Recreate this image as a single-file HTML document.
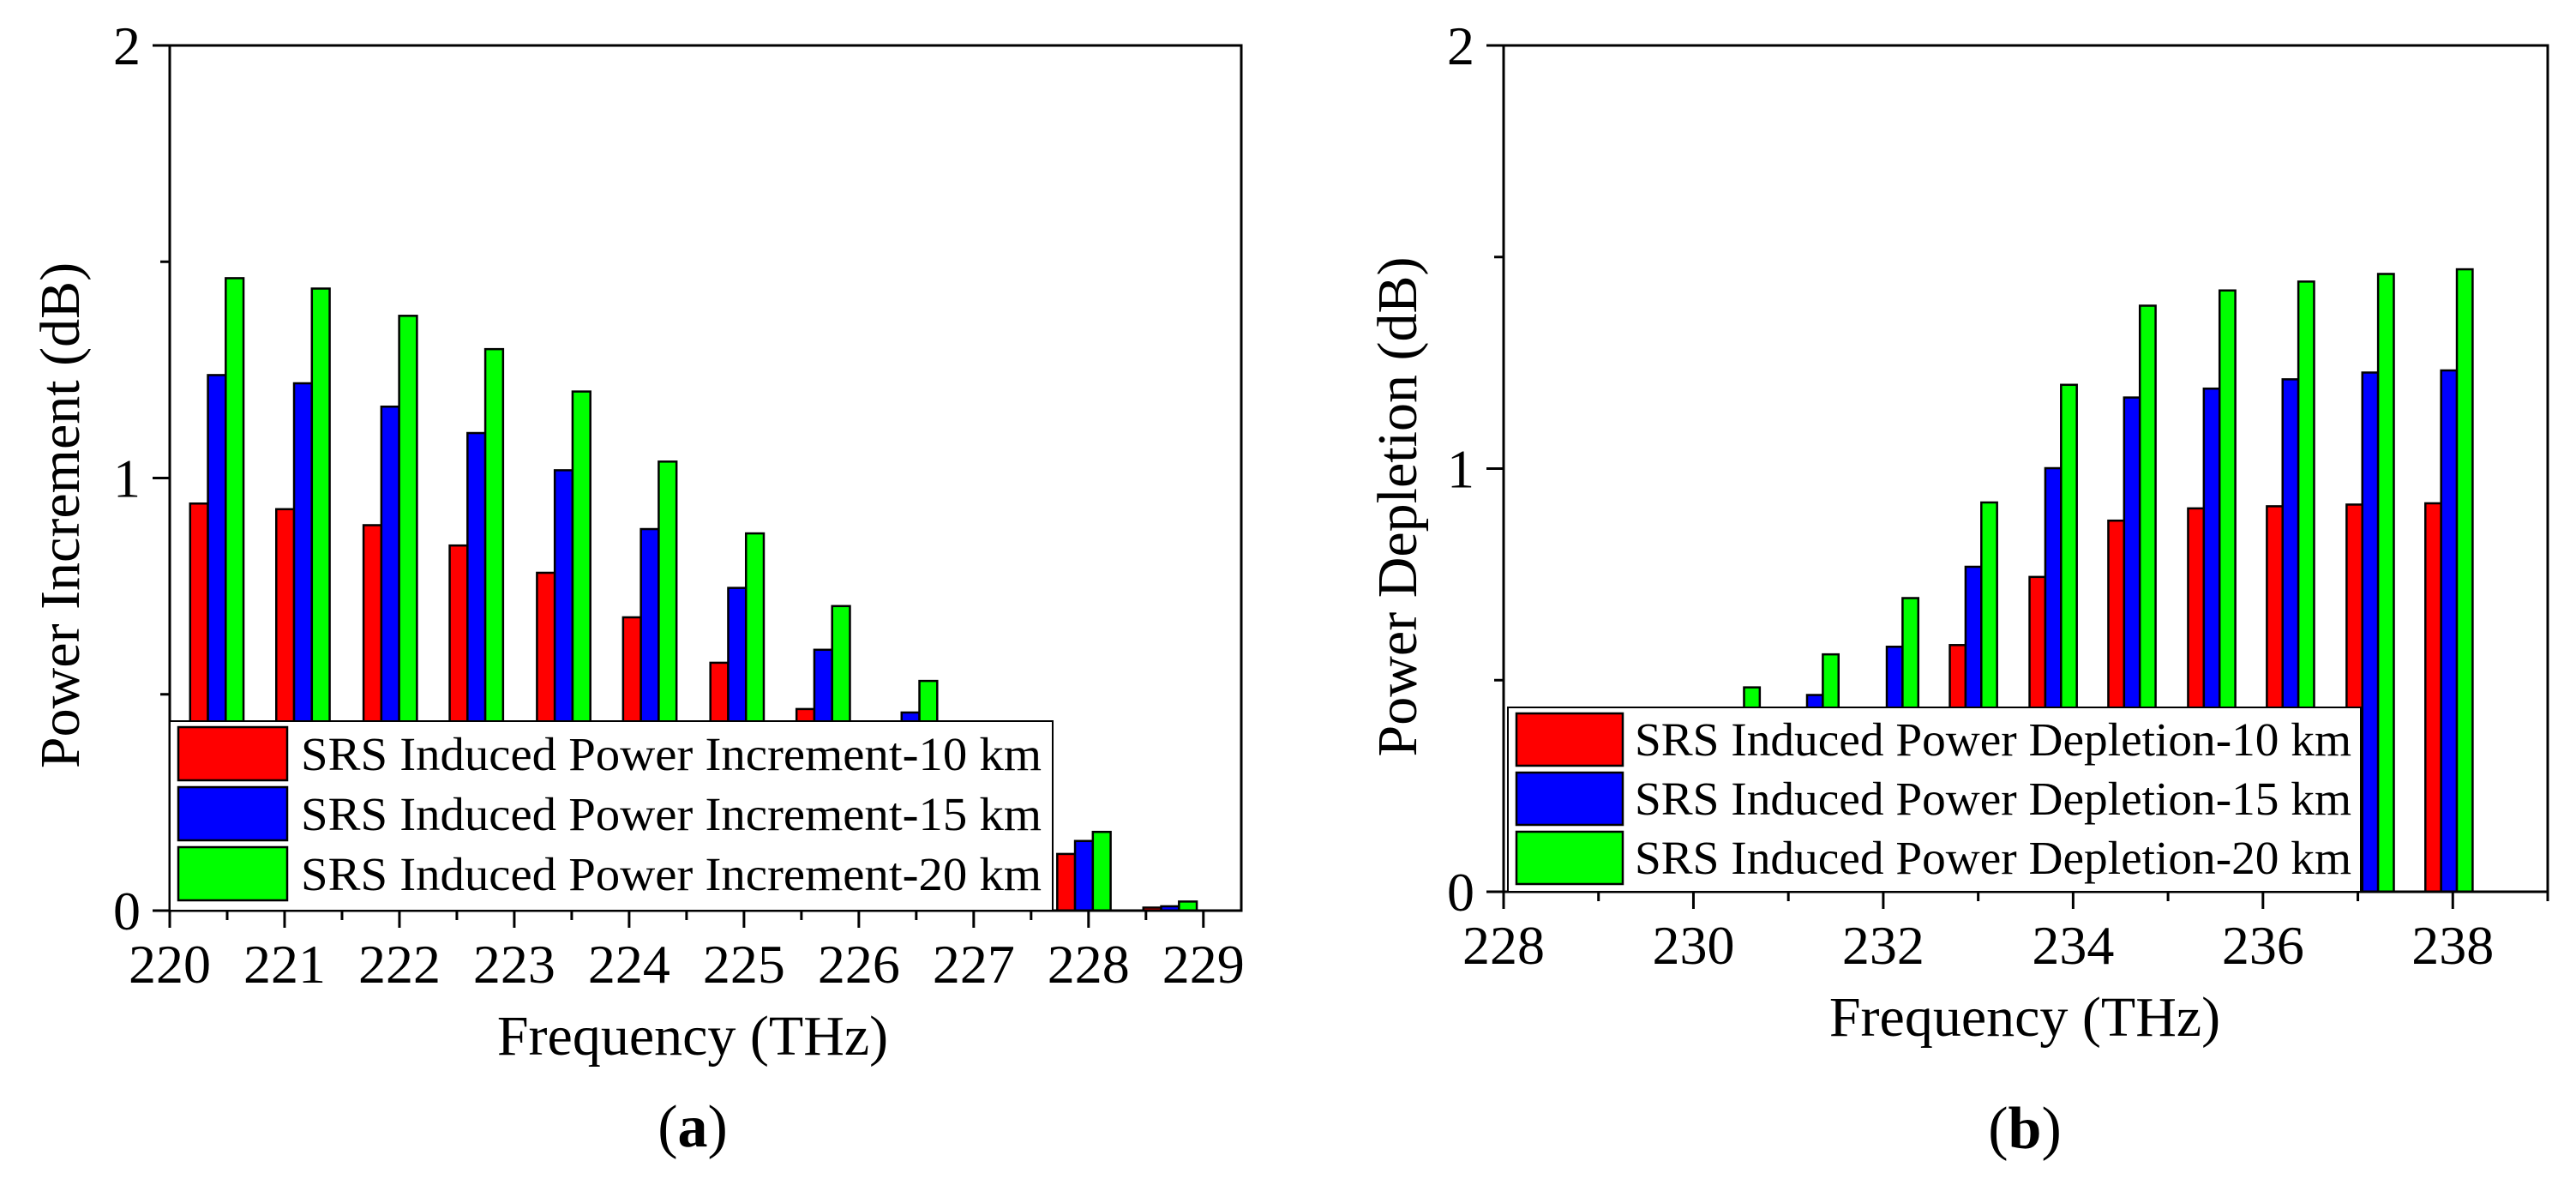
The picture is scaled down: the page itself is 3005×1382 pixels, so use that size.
<!DOCTYPE html>
<html><head><meta charset="utf-8"><style>html,body{margin:0;padding:0;background:#fff}svg{display:block}text{font-family:"Liberation Serif",serif;fill:#000}</style></head>
<body>
<svg id="fig" width="3005" height="1382" viewBox="0 0 3005 1382" xmlns="http://www.w3.org/2000/svg"></svg>
<script>
// Panel (a) data
const freqA = [220.41,221.16,221.92,222.67,223.43,224.18,224.94,225.69,226.45,227.20,227.96,228.71];
const incr10 = [0.941,0.928,0.891,0.844,0.781,0.678,0.573,0.466,0.36,0.26,0.131,0.007];
const incr15 = [1.238,1.219,1.165,1.104,1.018,0.882,0.746,0.603,0.458,0.32,0.161,0.010];
const incr20 = [1.462,1.438,1.375,1.298,1.200,1.038,0.872,0.704,0.531,0.37,0.182,0.021];
const ticksXA = [220,221,222,223,224,225,226,227,228,229];
const ticksY = [0,1,2];
// Panel (b) data
const freqB = [230.45,231.28,232.12,232.95,233.79,234.62,235.46,236.29,237.13,237.96];
const depl10 = [0.20,0.30,0.40,0.583,0.744,0.877,0.906,0.911,0.915,0.918];
const depl15 = [0.35,0.465,0.579,0.768,1.001,1.168,1.189,1.211,1.227,1.232];
const depl20 = [0.483,0.561,0.694,0.920,1.198,1.385,1.421,1.442,1.460,1.471];
const ticksXB = [228,230,232,234,236,238];
const legendA = ["SRS Induced Power Increment-10 km","SRS Induced Power Increment-15 km","SRS Induced Power Increment-20 km"];
const legendB = ["SRS Induced Power Depletion-10 km","SRS Induced Power Depletion-15 km","SRS Induced Power Depletion-20 km"];
const colors = ["#ff0000","#0000ff","#00ff00"];

const svg = document.getElementById('fig');
const NS = 'http://www.w3.org/2000/svg';
function mk(tag, attrs, parent) {
  const e = document.createElementNS(NS, tag);
  for (const k in attrs) e.setAttribute(k, attrs[k]);
  (parent || svg).appendChild(e);
  return e;
}

function panel(p) {
  const g = mk('g', {});
  
  
  const xs = v => p.x0 + (v - p.xmin) / (p.xmax - p.xmin) * (p.x1 - p.x0);
  const ys = v => p.y0 - v / 2 * (p.y0 - p.y1);
  const series = [p.s1, p.s2, p.s3];
  for (let i = 0; i < p.freq.length; i++) {
    for (let s = 0; s < 3; s++) {
      const c = p.freq[i] + (s - 1) * p.bw;
      const left = xs(c - p.bw / 2), right = xs(c + p.bw / 2);
      const top = ys(series[s][i]);
      const r = mk('rect', {x: left, y: top, width: right - left, height: p.y0 - top, fill: colors[s], stroke: '#000', 'stroke-width': 2.5}, g);
      
      
    }
  }
  const fr = mk('rect', {x: p.x0, y: p.y1, width: p.x1 - p.x0, height: p.y0 - p.y1, fill: 'none', stroke: '#000', 'stroke-width': 3}, g);
  
  
  for (let t = p.xmin; t <= p.xmax + 1e-6; t += p.minorStep) {
    const tx = xs(t);
    const major = p.ticksX.some(v => Math.abs(v - t) < 1e-6);
    mk('line', {x1: tx, x2: tx, y1: p.y0, y2: p.y0 + (major ? 20 : 11), stroke: '#000', 'stroke-width': 3}, g);
  }
  p.ticksX.forEach(v => {
    const t = mk('text', {x: xs(v), y: p.y0 + 84, 'font-size': 64, 'text-anchor': 'middle'}, g);
    t.textContent = v;
    
    
  });
  [0, 0.5, 1, 1.5, 2].forEach(v => {
    const major = ticksY.includes(v);
    mk('line', {x1: p.x0, x2: p.x0 - (major ? 20 : 11), y1: ys(v), y2: ys(v), stroke: '#000', 'stroke-width': 3}, g);
  });
  ticksY.forEach(v => {
    const t = mk('text', {x: p.x0 - 34, y: ys(v) + 22, 'font-size': 64, 'text-anchor': 'end'}, g);
    t.textContent = v;
    
    
  });
  const xt = mk('text', {x: p.xtx, y: p.y0 + 168, 'font-size': 66, 'text-anchor': 'middle'}, g);
  xt.textContent = 'Frequency (THz)';
  
  
  const yt = mk('text', {x: 0, y: 0, 'font-size': 66, 'text-anchor': 'middle', transform: 'translate(' + p.ytx + ',' + p.yty + ') rotate(-90)'}, g);
  yt.textContent = p.ytitle;
  
  
  const cap = mk('text', {x: p.xtx, y: p.capy, 'font-size': 70, 'text-anchor': 'middle'}, g);
  cap.innerHTML = '(<tspan font-weight="bold">' + p.cap + '</tspan>)';
  
  
  const lg = mk('g', {}, g);
  
  
  mk('rect', {x: p.lx, y: p.ly, width: p.lw, height: p.y0 - p.ly, fill: '#fff', stroke: '#000', 'stroke-width': 2}, lg);
  for (let s = 0; s < 3; s++) {
    const ry = p.ly + 7 + s * p.rowH;
    const sw = mk('rect', {x: p.lx + 10, y: ry, width: p.swW, height: p.rowH - 8, fill: colors[s], stroke: '#000', 'stroke-width': 2.5}, lg);
    
    
    const lt = mk('text', {x: p.lx + p.txOff, y: ry + p.rowH - 20, 'font-size': 55, textLength: p.tl, lengthAdjust: 'spacingAndGlyphs'}, lg);
    lt.textContent = p.legend[s];
    
    
  }
}

panel({id: 'increment', freq: freqA, s1: incr10, s2: incr15, s3: incr20, ticksX: ticksXA,
  xmin: 220, xmax: 229.33, x0: 198, x1: 1448, y0: 1062, y1: 53, bw: 0.155, minorStep: 0.5,
  xtx: 808, ytitle: 'Power Increment (dB)', ytx: 92, yty: 601, cap: 'a', capy: 1337,
  lx: 198, ly: 841, lw: 1030, rowH: 70, swW: 127, txOff: 153, tl: 864, legend: legendA});
panel({id: 'depletion', freq: freqB, s1: depl10, s2: depl15, s3: depl20, ticksX: ticksXB,
  xmin: 228, xmax: 239, x0: 1754, x1: 2972, y0: 1040, y1: 53, bw: 0.166, minorStep: 1,
  xtx: 2362, ytitle: 'Power Depletion (dB)', ytx: 1652, yty: 591, cap: 'b', capy: 1339,
  lx: 1759, ly: 825, lw: 995, rowH: 69, swW: 124, txOff: 148, tl: 836, legend: legendB});
</script>
</body></html>
